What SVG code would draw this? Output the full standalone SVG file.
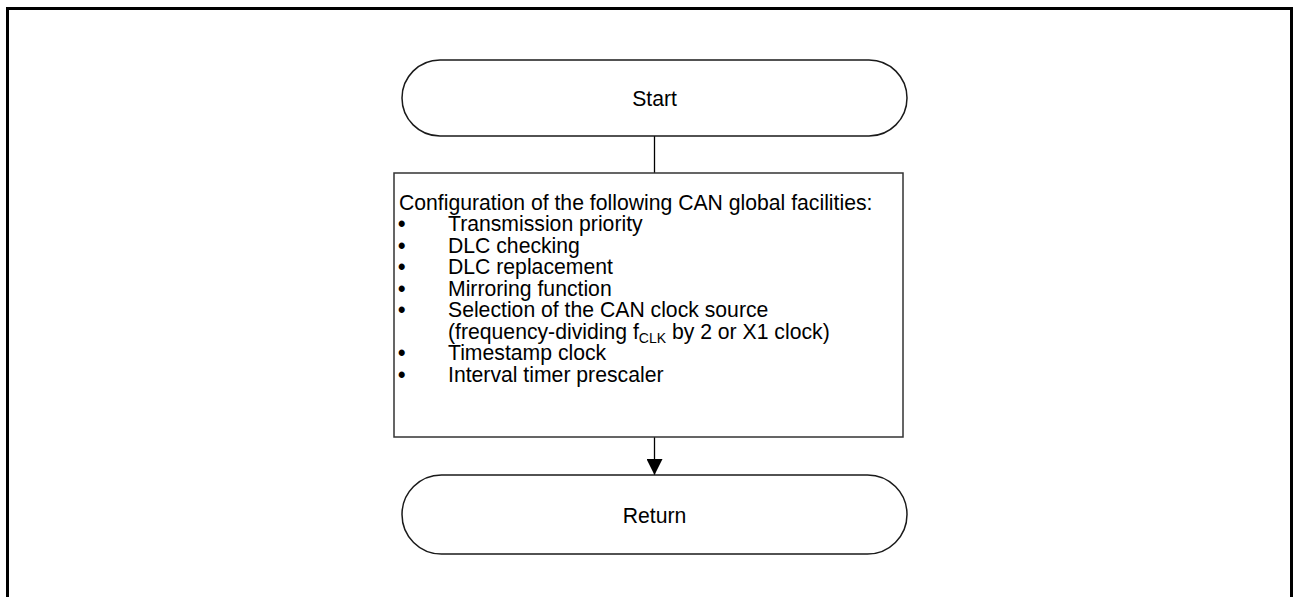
<svg xmlns="http://www.w3.org/2000/svg" width="1293" height="597" viewBox="0 0 1293 597">
  <style>
    .frame { fill: none; stroke: #000; stroke-width: 3; }
    .term { fill: #fff; stroke: #1a1a1a; stroke-width: 1.5; }
    .box { fill: #fff; stroke: #333; stroke-width: 1.5; }
    .line { fill: none; stroke: #000; stroke-width: 1.3; }
    text { font-family: "Liberation Sans", Arial, sans-serif; font-size: 21.2px; fill: #000; }
    .mid { text-anchor: middle; }
    .bul { font-weight: bold; }
  </style>
  <defs>
    <marker id="arrow" markerWidth="16" markerHeight="16" refX="16" refY="8" orient="auto" markerUnits="userSpaceOnUse">
      <path d="M0,0 L16,8 L0,16 Z" fill="#000"/>
    </marker>
  </defs>

  <!-- page frame (open at the bottom) -->
  <path class="frame" d="M7.5,597 V8.5 H1291.5 V597"/>

  <g id="connectors">
    <line class="line" x1="654.5" y1="136" x2="654.5" y2="173"/>
    <line class="line" x1="654.5" y1="437" x2="654.5" y2="475" marker-end="url(#arrow)"/>
  </g>

  <g id="start">
    <rect class="term" x="402" y="60" width="505" height="76" rx="38" ry="38"/>
    <text class="mid" x="654.5" y="105.5">Start</text>
  </g>

  <g id="config">
    <rect class="box" x="394" y="173" width="509" height="264"/>
    <text x="399" y="209.5">Configuration of the following CAN global facilities:</text>
    <g>
      <text class="bul" x="398" y="231">•</text><text x="448" y="231">Transmission priority</text>
      <text class="bul" x="398" y="252.5">•</text><text x="448" y="252.5">DLC checking</text>
      <text class="bul" x="398" y="274">•</text><text x="448" y="274">DLC replacement</text>
      <text class="bul" x="398" y="295.5">•</text><text x="448" y="295.5">Mirroring function</text>
      <text class="bul" x="398" y="317">•</text><text x="448" y="317">Selection of the CAN clock source</text>
      <text x="448" y="338.5">(frequency-dividing f<tspan font-size="14" dy="4.5">CLK</tspan><tspan dy="-4.5"> by 2 or X1 clock)</tspan></text>
      <text class="bul" x="398" y="360">•</text><text x="448" y="360">Timestamp clock</text>
      <text class="bul" x="398" y="381.5">•</text><text x="448" y="381.5">Interval timer prescaler</text>
    </g>
  </g>

  <g id="return">
    <rect class="term" x="402" y="475" width="505" height="79" rx="39.5" ry="39.5"/>
    <text class="mid" x="654.5" y="522.5">Return</text>
  </g>
</svg>
